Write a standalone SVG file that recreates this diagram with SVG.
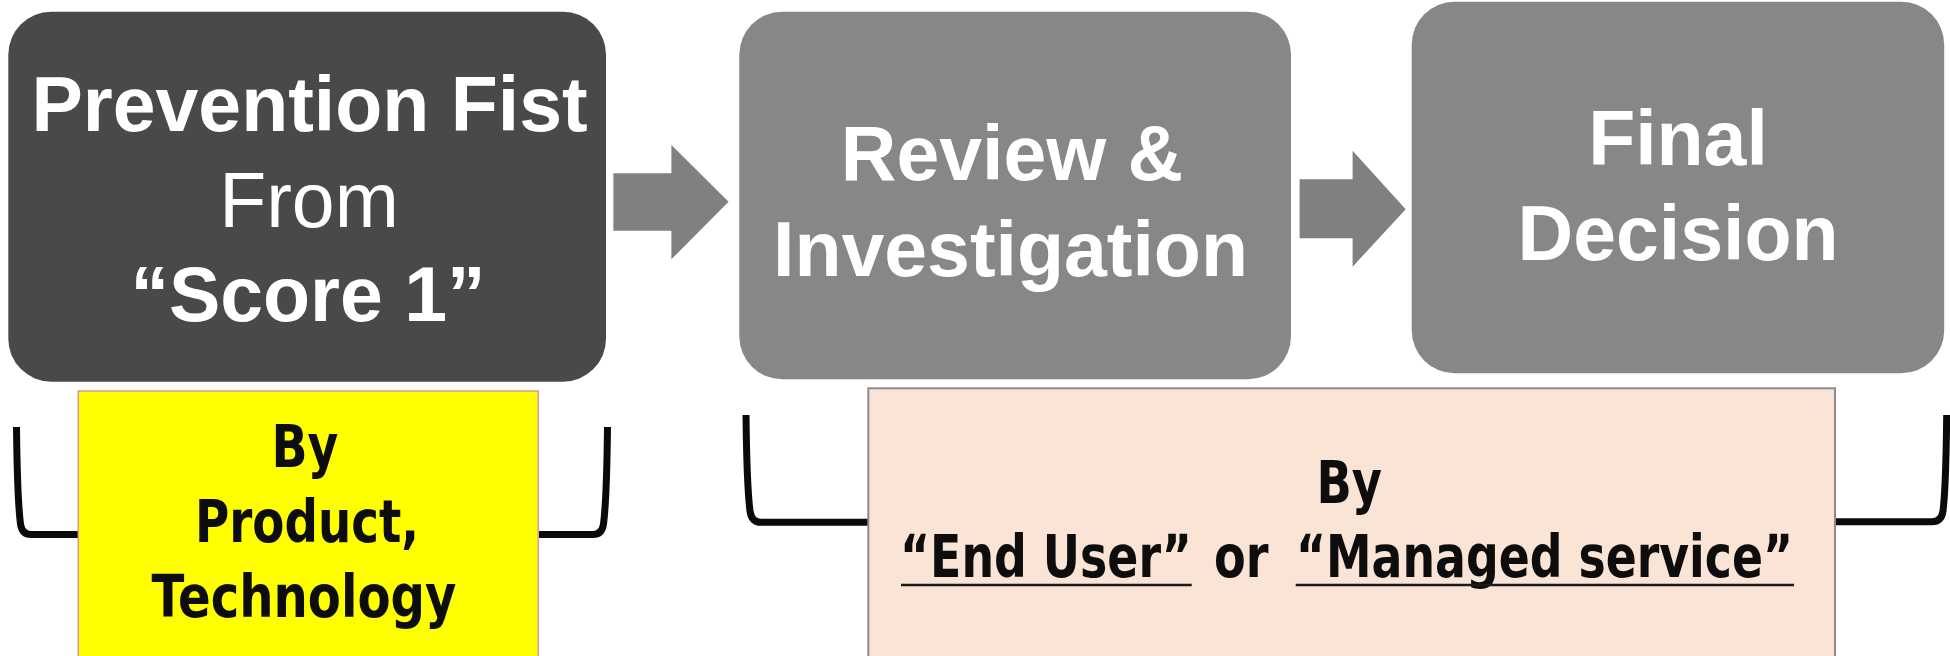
<svg xmlns="http://www.w3.org/2000/svg" width="1950" height="656" viewBox="0 0 1950 656">
  <style>
    .stage-dark { fill: #494949; }
    .stage { fill: #878787; }
    .arrow { fill: #808080; }
    .head { font-family: "Liberation Sans", Arial, sans-serif; font-size: 77px; fill: #ffffff; text-anchor: middle; }
    .bold { font-weight: 700; }
    .note { font-family: "DejaVu Sans", "Liberation Sans", sans-serif; font-weight: 700; font-size: 59px; fill: #0d0d0d; }
    .bracket { fill: none; stroke: #0a0a0a; stroke-width: 7; stroke-linejoin: round; }
    .rule { stroke: #1a1a1a; stroke-width: 2.5; }
  </style>

  <!-- stage 1 -->
  <g id="prevention-first">
    <rect class="stage-dark" x="8.3" y="11.7" width="597.7" height="370" rx="43" ry="43"/>
    <text class="head bold" x="309.5" y="130.7">Prevention Fist</text>
    <text class="head" x="309" y="226.7">From</text>
    <text class="head bold" x="308" y="320.5">“Score 1”</text>
  </g>

  <!-- stage 2 -->
  <g id="review-investigation">
    <rect class="stage" x="739.3" y="11.7" width="551.7" height="367.6" rx="43" ry="43"/>
    <text class="head bold" x="1012" y="180">Review &amp;</text>
    <text class="head bold" x="1010.5" y="276">Investigation</text>
  </g>

  <!-- stage 3 -->
  <g id="final-decision">
    <rect class="stage" x="1411.7" y="1.7" width="532.5" height="371.6" rx="43" ry="43"/>
    <text class="head bold" x="1678" y="165">Final</text>
    <text class="head bold" x="1678" y="260">Decision</text>
  </g>

  <!-- block arrows between stages -->
  <g id="connectors">
    <polygon class="arrow" points="613.4,173.3 671.4,173.3 671.4,145 728.6,201.7 671.4,259.3 671.4,230.7 613.4,230.7"/>
    <polygon class="arrow" points="1299.6,179.3 1352.6,179.3 1352.6,150.7 1405.7,209.3 1352.6,266.7 1352.6,238.3 1299.6,238.3"/>
  </g>

  <!-- brackets tying the owner boxes to their stages -->
  <g id="brackets">
    <path class="bracket" d="M16.5 427 C17 470 18 505 20.5 524 Q22 534.5 31 534.5 L79 534.5"/>
    <path class="bracket" d="M607.5 427 C607 470 606 505 603.5 524 Q602 534.5 593 534.5 L538 534.5"/>
    <path class="bracket" d="M746 415 C746.5 460 748 495 750 511 Q751.5 522.3 761 522.3 L868 522.3"/>
    <path class="bracket" d="M1946.7 415 C1946.2 460 1945 495 1943 511 Q1941.5 521.7 1932 521.7 L1835 521.7"/>
  </g>

  <!-- owner of stage 1 (condensed bold lettering) -->
  <g id="owner-product">
    <rect x="78.3" y="391" width="460" height="280" fill="#ffff00" stroke="#d99694" stroke-width="1.5"/>
    <text class="note" transform="translate(271.5,466.7) scale(0.82,1)" textLength="81.7" lengthAdjust="spacingAndGlyphs">By</text>
    <text class="note" transform="translate(195,541.7) scale(0.82,1)" textLength="273.2" lengthAdjust="spacingAndGlyphs">Product,</text>
    <text class="note" transform="translate(151.5,616.7) scale(0.82,1)" textLength="372" lengthAdjust="spacingAndGlyphs">Technology</text>
  </g>

  <!-- owner of stages 2 and 3 -->
  <g id="owner-user-or-service">
    <rect x="868.3" y="388.3" width="966.7" height="280" fill="#f9e4d6" stroke="#8c8c8c" stroke-width="2"/>
    <text class="note" transform="translate(1316.5,503.3) scale(0.82,1)" textLength="79.9" lengthAdjust="spacingAndGlyphs">By</text>
    <text class="note" transform="translate(900,576.7) scale(0.82,1)" textLength="356.1" lengthAdjust="spacingAndGlyphs">“End User”</text>
    <text class="note" transform="translate(1214,576.7) scale(0.82,1)" textLength="66.5" lengthAdjust="spacingAndGlyphs">or</text>
    <text class="note" transform="translate(1296,576.7) scale(0.82,1)" textLength="606.1" lengthAdjust="spacingAndGlyphs">“Managed service”</text>
    <line class="rule" x1="901" y1="585" x2="1191.7" y2="585"/>
    <line class="rule" x1="1295.7" y1="585" x2="1794" y2="585"/>
  </g>
</svg>
